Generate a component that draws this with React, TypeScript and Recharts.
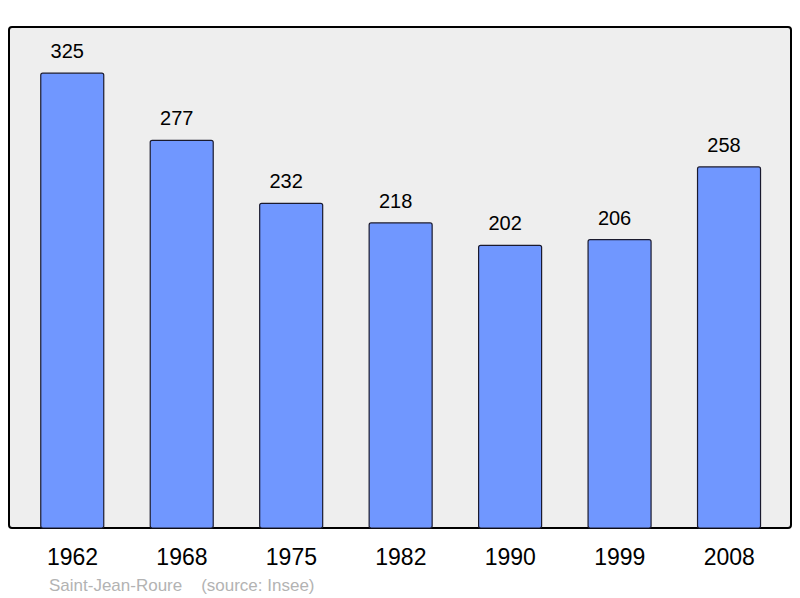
import { Bar, BarChart, LabelList, ReferenceArea, XAxis, YAxis } from 'recharts'

const years = ['1962', '1968', '1975', '1982', '1990', '1999', '2008']
const population = [325, 277, 232, 218, 202, 206, 258]

const data = years.map((year, i) => ({ idx: i, year, value: population[i] }))

const font = 'Liberation Sans, Arial, sans-serif'
const xMin = -0.58
const xMax = 6.564

export default function App() {
  return (
    <div style={{ position: 'absolute', left: 0, top: 0, width: 800, height: 598, background: '#fff' }}>
      <BarChart
        width={800}
        height={598}
        data={data}
        margin={{ top: 27, right: 9, bottom: 0, left: 9 }}
      >
        <XAxis
          dataKey='idx'
          type='number'
          domain={[xMin, xMax]}
          ticks={years.map((_, i) => i)}
          tickFormatter={(v) => years[v]}
          height={70}
          axisLine={false}
          tickLine={false}
          tickSize={0}
          tickMargin={21}
          tick={{ fill: '#000', fontSize: 23, fontFamily: font }}
          allowDataOverflow
        />
        <YAxis hide domain={[0, 358]} />
        <ReferenceArea
          x1={xMin}
          x2={xMax}
          y1={0}
          y2={358}
          fill='#eeeeee'
          fillOpacity={1}
          stroke='none'
        />
        <Bar
          dataKey='value'
          barSize={63}
          fill='#7097ff'
          stroke='#1a1a2e'
          strokeWidth={1.2}
          radius={2}
          isAnimationActive={false}
        >
          <LabelList
            dataKey='value'
            position='top'
            offset={15}
            dx={-5}
            fill='#000'
            fontSize={20}
            fontFamily={font}
          />
        </Bar>
        <ReferenceArea
          x1={xMin}
          x2={xMax}
          y1={0}
          y2={358}
          fill='none'
          stroke='#000'
          strokeWidth={2}
          radius={3}
        />
      </BarChart>
      <div
        style={{
          position: 'absolute',
          left: 49,
          top: 576,
          fontFamily: font,
          fontSize: 17,
          color: '#b3b3b3',
          whiteSpace: 'pre',
        }}
      >
        {'Saint-Jean-Roure    (source: Insee)'}
      </div>
    </div>
  )
}
